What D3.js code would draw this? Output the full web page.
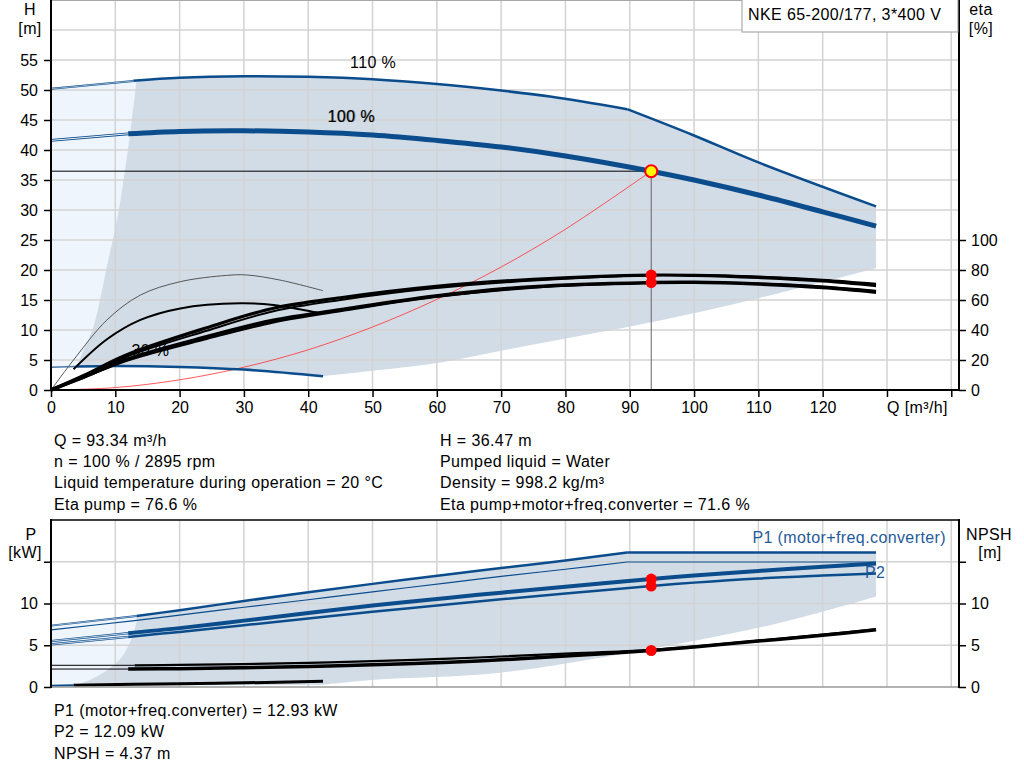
<!DOCTYPE html>
<html>
<head>
<meta charset="utf-8">
<script src="https://cdn.jsdelivr.net/npm/d3@7"></script>
<style>
  body { margin: 0; background: #fff; }
  svg { display: block; }
  text { font-family: "Liberation Sans", Arial, sans-serif; fill: #000; font-size: 16px; }
  .lbl { letter-spacing: 0.4px; }
</style>
</head>
<body>
<svg id="chart" width="1024" height="781"></svg>
<script>
// ---- tick values
const qTicks = d3.range(0, 150, 10);
const hTicks = d3.range(0, 60, 5);
const hGrid = d3.range(5, 65, 5);
const etaTicks = [0, 20, 40, 60, 80, 100];
const pTicks = [0, 5, 10, 15];

// ---- head curves [Q m3/h, H m]
const head110Low = [[0, 50.2], [12.8, 51.5]];
const head110 = [[12.8, 51.55], [20, 52.05], [30, 52.3], [40, 52.2], [50, 51.8], [60, 51.0], [70, 49.9], [77.6, 48.9], [89.6, 46.8]];
const head110Limit = [[89.6, 46.8], [99.8, 42.5], [110.3, 37.8], [128.3, 30.6]];
const head100Low = [[0, 41.6], [12, 42.7]];
const head100 = [[12, 42.7], [20, 43.1], [30, 43.2], [40, 43.0], [50, 42.5], [60, 41.6], [70, 40.5], [80, 39.0], [93.34, 36.47], [100, 35.0], [110, 32.5], [120, 29.7], [128.3, 27.3]];
const head30Low = [[0, 3.8], [4, 3.9]];
const head30 = [[4, 3.9], [10, 4.0], [20, 3.85], [30, 3.4], [42.3, 2.3]];
const headMinFlowEdge = [[4, 3.9], [5.2, 7], [6.6, 10.6], [7.8, 16], [8.9, 21.7], [10, 27], [10.8, 31.7], [12.3, 42.8], [13.3, 51.6]];
const headLowEdge = [[42.3, 2.3], [50, 3.2], [59.5, 4.4], [75, 7.6], [94.7, 11.6], [110, 15.3], [128.3, 20.3]];
const systemCurve = [[0, 0], [10, 0.4], [20, 1.7], [30, 3.8], [40, 6.7], [50, 10.5], [60, 15.1], [70, 20.5], [80, 26.8], [93.34, 36.47]];

// ---- efficiency curves [Q, eta %]
const etaPump100 = [[0, 0], [5, 9.5], [11.8, 23.5], [24.2, 41.5], [34.6, 54.5], [45, 61.5], [59.5, 68.9], [75, 73.8], [93.34, 76.6], [100, 76.4], [110, 75.0], [120, 72.7], [128.3, 69.6]];
const etaPump110 = [[0, 0], [5, 8.8], [11.8, 22.3], [24.2, 39.5], [34.6, 52.5], [45, 60.0], [59.5, 67.8], [75, 73.0], [93.34, 76.5], [100, 76.6], [110, 75.6], [120, 73.5], [128.3, 70.8]];
const etaTotal100 = [[0, 0], [5, 8.5], [11.8, 20.5], [24.2, 35.5], [34.6, 46.5], [45, 53.5], [59.5, 62.5], [75, 68.9], [93.34, 71.6], [100, 71.8], [110, 70.6], [120, 68.3], [128.3, 65.2]];
const etaTotal110 = [[0, 0], [5, 8.0], [11.8, 19.5], [24.2, 34.0], [34.6, 45.0], [45, 52.5], [59.5, 61.8], [75, 68.2], [93.34, 71.5], [100, 71.9], [110, 71.0], [120, 69.0], [128.3, 66.2]];
const etaPump30 = [[0, 0], [3.5, 20], [8.7, 46.7], [13.9, 63.3], [20.1, 72.2], [27.3, 76.4], [30.4, 76.7], [35.6, 73.3], [42.3, 66.2]];
const etaTotal30 = [[3.5, 13.8], [8.7, 33.8], [13.9, 46.7], [20.1, 54.4], [29.4, 57.8], [34.6, 56.7], [38.7, 53.8], [41.5, 51.5]];

// ---- power / NPSH curves [Q, kW or m]
const p1_110Low = [[0, 7.35], [13.3, 8.5]];
const p1_110 = [[13.3, 8.5], [20, 9.2], [30, 10.3], [40, 11.35], [50, 12.35], [62, 13.5], [70, 14.25], [80, 15.15], [89.6, 16.1]];
const p1_110Limit = [[89.6, 16.1], [128.3, 16.1]];
const p2_110 = [[0, 6.85], [13, 7.95], [20, 8.6], [30, 9.55], [40, 10.45], [50, 11.4], [62, 12.5], [70, 13.25], [80, 14.1], [89.6, 14.97]];
const p2_110Limit = [[89.6, 14.97], [128.3, 14.97]];
const p1_100Low = [[0, 5.5], [12, 6.45]];
const p1_100 = [[12, 6.45], [20, 7.05], [30, 7.95], [40, 8.85], [50, 9.75], [62, 10.7], [70, 11.3], [80, 12.0], [93.34, 12.93], [100, 13.35], [110, 13.9], [120, 14.4], [128.3, 14.8]];
const p2_100Low = [[0, 5.1], [12, 6.0]];
const p2_100 = [[12, 6.0], [20, 6.6], [30, 7.4], [40, 8.2], [50, 9.0], [62, 9.9], [70, 10.5], [80, 11.2], [93.34, 12.09], [100, 12.5], [110, 13.0], [120, 13.35], [128.3, 13.6]];
const npsh100Low = [[0, 2.15], [12, 2.15]];
const npsh100 = [[12, 2.15], [20, 2.2], [30, 2.3], [40, 2.45], [50, 2.65], [62, 2.95], [70, 3.25], [80, 3.7], [93.34, 4.37], [100, 4.8], [110, 5.5], [120, 6.2], [128.3, 6.85]];
const npsh110Low = [[0, 2.6], [13, 2.6]];
const npsh110 = [[13, 2.6], [20, 2.65], [30, 2.75], [40, 2.9], [50, 3.1], [62, 3.4], [70, 3.65], [80, 4.0], [93.34, 4.45], [110, 5.55], [128.3, 6.9]];
const power30Low = [[0, 0.15], [3.5, 0.2]];
const power30 = [[3.5, 0.2], [20, 0.4], [30, 0.5], [42.3, 0.68]];
const powerMinFlowEdge = [[3.5, 0.15], [6.1, 0.87], [9.2, 2.27], [11.25, 3.87], [12.55, 5.87], [13.3, 7.86], [13.3, 8.5]];
const powerLowEdge = [[42.3, 0.28], [50.4, 0.87], [69.4, 1.68], [89.6, 4.07], [112.1, 7.46], [128.3, 10.85]];

// ---- duty point
const duty = { q: 93.34, h: 36.47, etaPump: 76.6, etaTotal: 71.6, p1: 12.93, p2: 12.09, npsh: 4.37 };

const infoLeft = ["Q = 93.34 m³/h", "n = 100 % / 2895 rpm", "Liquid temperature during operation = 20 °C", "Eta pump = 76.6 %"];
const infoRight = ["H = 36.47 m", "Pumped liquid = Water", "Density = 998.2 kg/m³", "Eta pump+motor+freq.converter = 71.6 %"];
const infoBottom = ["P1 (motor+freq.converter) = 12.93 kW", "P2 = 12.09 kW", "NPSH = 4.37 m"];

const blue = "#0b4c8c";
const fillGray = "#d1dce7";
const fillLight = "#eef5fc";
const gridColor = "#d3d3d3";

const svg = d3.select("#chart");

const x = d3.scaleLinear().domain([0, 141.2]).range([51, 959]);
const yH = d3.scaleLinear().domain([0, 65]).range([390, 0]);
const yEta = d3.scaleLinear().domain([0, 260]).range([390, 0]);
const yP = d3.scaleLinear().domain([0, 20]).range([687, 520]);

const curve = d3.curveCatmullRom.alpha(0.5);
const lineH = d3.line().x(d => x(d[0])).y(d => yH(d[1])).curve(curve);
const lineEta = d3.line().x(d => x(d[0])).y(d => yEta(d[1])).curve(curve);
const lineP = d3.line().x(d => x(d[0])).y(d => yP(d[1])).curve(curve);

// join several segments into one closed area
function joinPath(gen, segs) {
    return segs.map((s, i) => {
        const p = gen(s);
        return i ? p.replace(/^M/, "L") : p;
    }).join("") + "Z";
}
const rev = a => a.slice().reverse();

function drawLine(gen, data, color, width) {
    return svg.append("path")
        .attr("d", gen(data))
        .attr("fill", "none")
        .attr("stroke", color)
        .attr("stroke-width", width)
        .attr("stroke-linejoin", "round");
}
// thin hollow extension lines
function drawHollow(gen, data, color, outer, inner) {
    drawLine(gen, data, color, outer);
    drawLine(gen, data, fillLight, inner);
}

// ================= TOP CHART =================
// areas
svg.append("path")
    .attr("d", joinPath(lineH, [
        [[0, 3.8], [0, 50.2]],
        head110Low,
        [[12.8, 51.5], [13.3, 51.6]],
        rev(headMinFlowEdge),
        rev(head30Low)
    ]))
    .attr("fill", fillLight);

svg.append("path")
    .attr("d", joinPath(lineH, [
        headMinFlowEdge,
        head110.filter(d => d[0] > 13.3),
        head110Limit,
        [[128.3, 30.6], [128.3, 20.3]],
        rev(headLowEdge),
        rev(head30)
    ]))
    .attr("fill", fillGray);

// grid
svg.append("g").selectAll("line").data(qTicks.filter(d => d > 0)).join("line")
    .attr("x1", d => x(d)).attr("x2", d => x(d))
    .attr("y1", 0).attr("y2", 390)
    .attr("stroke", gridColor).attr("stroke-width", 1.5);
svg.append("g").selectAll("line").data(hGrid).join("line")
    .attr("x1", 51).attr("x2", 959)
    .attr("y1", d => yH(d)).attr("y2", d => yH(d))
    .attr("stroke", gridColor).attr("stroke-width", 1.5);
svg.append("line").attr("x1", 51).attr("x2", 959).attr("y1", 0.5).attr("y2", 0.5)
    .attr("stroke", "#a8a8a8").attr("stroke-width", 1);

// labels inside plot
svg.append("text").attr("class", "lbl").attr("x", x(46.5)).attr("y", yH(53.6)).text("110 %");
svg.append("text").attr("class", "lbl").attr("x", x(43)).attr("y", yH(44.6)).text("100 %");
svg.append("text").attr("class", "lbl").attr("x", x(43) + 0.8).attr("y", yH(44.6) - 0.6).attr("opacity", 0.45).text("100 %");
svg.append("text").attr("class", "lbl").attr("x", x(12.5)).attr("y", yH(5.6)).text("30 %");

// duty lines and system curve
drawLine(lineH, systemCurve, "#ff3030", 0.8);
svg.append("line")
    .attr("x1", x(0)).attr("x2", x(duty.q))
    .attr("y1", yH(duty.h)).attr("y2", yH(duty.h))
    .attr("stroke", "#000").attr("stroke-width", 1);
svg.append("line")
    .attr("x1", x(duty.q)).attr("x2", x(duty.q))
    .attr("y1", yH(duty.h)).attr("y2", 390)
    .attr("stroke", "#666").attr("stroke-width", 1);

// 30 % speed curves
drawLine(lineH, head30Low, "#4a77a8", 1.5);
drawLine(lineH, head30, blue, 2.5);
drawLine(lineEta, etaPump30, "#555", 1);
drawLine(lineEta, etaTotal30, "#000", 2);

// efficiency curves
drawLine(lineEta, etaTotal110, "#000", 2);
drawLine(lineEta, etaTotal100, "#000", 3.5);
drawLine(lineEta, etaPump110, "#000", 2);
drawLine(lineEta, etaPump100, "#000", 3.2);

// head curves
drawHollow(lineH, head110Low, blue, 2, 0.6);
drawLine(lineH, head110, blue, 2.5);
drawLine(lineH, head110Limit, blue, 2.5);
drawHollow(lineH, head100Low, blue, 2.8, 1);
drawLine(lineH, head100, blue, 5);

// duty markers
svg.append("circle").attr("cx", x(duty.q)).attr("cy", yEta(duty.etaPump)).attr("r", 5.5).attr("fill", "#ff0000");
svg.append("circle").attr("cx", x(duty.q)).attr("cy", yEta(duty.etaTotal)).attr("r", 5.5).attr("fill", "#ff0000");
svg.append("circle").attr("cx", x(duty.q)).attr("cy", yH(duty.h)).attr("r", 6)
    .attr("fill", "#ffff00").attr("stroke", "#ff0000").attr("stroke-width", 2);

// axes
function styleAxis(g) {
    g.select(".domain").remove();
    g.selectAll(".tick line").attr("stroke", "#000").attr("stroke-width", 1.5);
    g.selectAll(".tick text").attr("font-size", "16px").attr("font-family", "Liberation Sans, Arial, sans-serif").attr("fill", "#000");
}
svg.append("g").attr("transform", "translate(51,0)")
    .call(d3.axisLeft(yH).tickValues(hTicks).tickSize(7).tickPadding(6))
    .call(styleAxis);
svg.append("g").attr("transform", "translate(959,0)")
    .call(d3.axisRight(yEta).tickValues(etaTicks).tickSize(7).tickPadding(5))
    .call(styleAxis);
svg.append("g").attr("transform", "translate(0,390)")
    .call(d3.axisBottom(x).tickValues(qTicks).tickFormat(d => d <= 120 ? d : "").tickSize(7).tickPadding(5))
    .call(styleAxis);

svg.append("line").attr("x1", 51).attr("x2", 51).attr("y1", 0).attr("y2", 391).attr("stroke", "#000").attr("stroke-width", 2);
svg.append("line").attr("x1", 959).attr("x2", 959).attr("y1", 0).attr("y2", 391).attr("stroke", "#000").attr("stroke-width", 2);
svg.append("line").attr("x1", 50).attr("x2", 960).attr("y1", 390).attr("y2", 390).attr("stroke", "#000").attr("stroke-width", 2);

svg.append("text").attr("class", "lbl").attr("x", x(130)).attr("y", 413).text("Q [m³/h]");
svg.append("text").attr("class", "lbl").attr("x", 30).attr("y", 15).attr("text-anchor", "middle").text("H");
svg.append("text").attr("class", "lbl").attr("x", 30).attr("y", 34).attr("text-anchor", "middle").text("[m]");
svg.append("text").attr("class", "lbl").attr("x", 981).attr("y", 15).attr("text-anchor", "middle").text("eta");
svg.append("text").attr("class", "lbl").attr("x", 981).attr("y", 34).attr("text-anchor", "middle").text("[%]");

// title box
svg.append("rect").attr("x", 742).attr("y", -1).attr("width", 216).attr("height", 33)
    .attr("fill", "#fff").attr("stroke", "#999").attr("stroke-width", 1);
svg.append("text").attr("class", "lbl").attr("x", 748).attr("y", 20).text("NKE 65-200/177, 3*400 V");

// info block
svg.append("g").selectAll("text").data(infoLeft).join("text")
    .attr("class", "lbl")
    .attr("x", 54).attr("y", (d, i) => 446 + i * 21.2).text(d => d);
svg.append("g").selectAll("text").data(infoRight).join("text")
    .attr("class", "lbl")
    .attr("x", 440).attr("y", (d, i) => 446 + i * 21.2).text(d => d);

// ================= BOTTOM CHART =================
svg.append("path")
    .attr("d", joinPath(lineP, [
        [[0, 0.15], [0, 7.35]],
        p1_110Low,
        rev(powerMinFlowEdge)
    ]))
    .attr("fill", fillLight);

svg.append("path")
    .attr("d", joinPath(lineP, [
        powerMinFlowEdge,
        p1_110.filter(d => d[0] > 13.3),
        p1_110Limit,
        [[128.3, 16.1], [128.3, 10.85]],
        rev(powerLowEdge),
        [[42.3, 0.28], [3.5, 0.12]]
    ]))
    .attr("fill", fillGray);

svg.append("g").selectAll("line").data(qTicks.filter(d => d > 0)).join("line")
    .attr("x1", d => x(d)).attr("x2", d => x(d))
    .attr("y1", 520).attr("y2", 687)
    .attr("stroke", gridColor).attr("stroke-width", 1.5);
svg.append("g").selectAll("line").data(pTicks.filter(d => d > 0)).join("line")
    .attr("x1", 51).attr("x2", 959)
    .attr("y1", d => yP(d)).attr("y2", d => yP(d))
    .attr("stroke", gridColor).attr("stroke-width", 1.5);

// power curves
drawHollow(lineP, p1_110Low, blue, 2, 0.6);
drawLine(lineP, p1_110, blue, 2.5);
drawLine(lineP, p1_110Limit, blue, 2.5);
drawLine(lineP, p2_110, blue, 1.2);
drawLine(lineP, p2_110Limit, blue, 1.2);
drawHollow(lineP, p2_100Low, blue, 2.4, 0.8);
drawLine(lineP, p2_100, blue, 2.5);
drawHollow(lineP, p1_100Low, blue, 2.4, 0.8);
drawLine(lineP, p1_100, blue, 4);

// NPSH curves
drawLine(lineP, npsh110Low, "#000", 1);
drawLine(lineP, npsh100Low, "#000", 1);
drawLine(lineP, npsh110, "#000", 2.2);
drawLine(lineP, npsh100, "#000", 3.5);
drawLine(lineP, power30Low, blue, 2);
drawLine(lineP, power30, "#000", 3);

// duty markers
[duty.p1, duty.p2, duty.npsh].forEach(v => {
    svg.append("circle").attr("cx", x(duty.q)).attr("cy", yP(v)).attr("r", 5.5).attr("fill", "#ff0000");
});

svg.append("text").attr("class", "lbl").attr("x", 946).attr("y", 543)
    .attr("text-anchor", "end").style("fill", "#1f5b99").text("P1 (motor+freq.converter)");
svg.append("text").attr("class", "lbl").attr("x", 865).attr("y", 578)
    .style("fill", "#1f5b99").text("P2");

svg.append("g").attr("transform", "translate(51,0)")
    .call(d3.axisLeft(yP).tickValues(pTicks).tickFormat(d => d < 15 ? d : "").tickSize(7).tickPadding(6))
    .call(styleAxis);
svg.append("g").attr("transform", "translate(959,0)")
    .call(d3.axisRight(yP).tickValues(pTicks).tickFormat(d => d < 15 ? d : "").tickSize(7).tickPadding(5))
    .call(styleAxis);

svg.append("line").attr("x1", 51).attr("x2", 959).attr("y1", 687).attr("y2", 687).attr("stroke", "#999").attr("stroke-width", 1.5);
svg.append("line").attr("x1", 51).attr("x2", 959).attr("y1", 520).attr("y2", 520).attr("stroke", "#000").attr("stroke-width", 1.5);
svg.append("line").attr("x1", 51).attr("x2", 51).attr("y1", 519).attr("y2", 688).attr("stroke", "#000").attr("stroke-width", 2);
svg.append("line").attr("x1", 959).attr("x2", 959).attr("y1", 519).attr("y2", 688).attr("stroke", "#000").attr("stroke-width", 2);

svg.append("text").attr("class", "lbl").attr("x", 31).attr("y", 540).attr("text-anchor", "middle").text("P");
svg.append("text").attr("class", "lbl").attr("x", 25).attr("y", 558).attr("text-anchor", "middle").text("[kW]");
svg.append("text").attr("class", "lbl").attr("x", 989).attr("y", 540).attr("text-anchor", "middle").text("NPSH");
svg.append("text").attr("class", "lbl").attr("x", 990).attr("y", 558).attr("text-anchor", "middle").text("[m]");

svg.append("g").selectAll("text").data(infoBottom).join("text")
    .attr("class", "lbl")
    .attr("x", 54).attr("y", (d, i) => 716 + i * 21.3).text(d => d);
</script>
</body>
</html>
